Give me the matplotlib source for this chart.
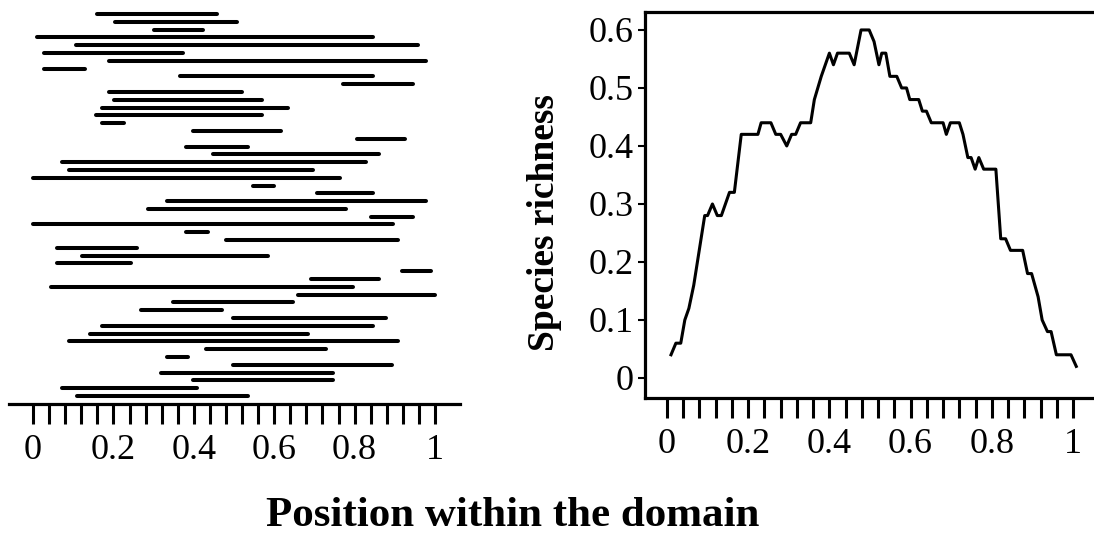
import matplotlib
matplotlib.use("Agg")
import matplotlib.pyplot as plt
import numpy as np

plt.rcParams['font.family'] = ['Liberation Serif', 'DejaVu Serif']

# left panel: range of each species (top to bottom)
range_start = [0.159, 0.204, 0.301, 0.010, 0.107, 0.027, 0.189, 0.027, 0.366, 0.771,
               0.189, 0.201, 0.172, 0.157, 0.172, 0.398, 0.806, 0.381, 0.448, 0.072,
               0.090, 0.000, 0.547, 0.706, 0.333, 0.286, 0.841, 0.000, 0.381, 0.480,
               0.060, 0.122, 0.060, 0.918, 0.692, 0.045, 0.659, 0.348, 0.269, 0.498,
               0.172, 0.142, 0.090, 0.430, 0.333, 0.498, 0.318, 0.398, 0.072, 0.109]
range_end = [0.458, 0.507, 0.423, 0.846, 0.958, 0.373, 0.978, 0.129, 0.846, 0.945,
             0.520, 0.570, 0.634, 0.570, 0.226, 0.617, 0.925, 0.535, 0.861, 0.828,
             0.697, 0.764, 0.600, 0.846, 0.978, 0.779, 0.945, 0.896, 0.435, 0.908,
             0.259, 0.585, 0.244, 0.990, 0.861, 0.796, 1.000, 0.647, 0.470, 0.878,
             0.846, 0.684, 0.908, 0.729, 0.386, 0.893, 0.746, 0.746, 0.408, 0.535]

# right panel: species richness along the domain
pos = [0.010, 0.022, 0.034, 0.044, 0.054, 0.066, 0.093, 0.100, 0.112, 0.124,
       0.134, 0.154, 0.166, 0.183, 0.224, 0.232, 0.256, 0.268, 0.280, 0.295,
       0.307, 0.317, 0.329, 0.354, 0.363, 0.380, 0.400, 0.410, 0.420, 0.449,
       0.461, 0.478, 0.498, 0.510, 0.522, 0.529, 0.539, 0.549, 0.566, 0.578,
       0.590, 0.598, 0.620, 0.629, 0.639, 0.651, 0.680, 0.688, 0.698, 0.720,
       0.729, 0.741, 0.749, 0.759, 0.768, 0.780, 0.810, 0.822, 0.834, 0.846,
       0.876, 0.888, 0.898, 0.914, 0.924, 0.937, 0.946, 0.959, 0.995, 1.008]
richness = [0.04, 0.06, 0.06, 0.10, 0.12, 0.16, 0.28, 0.28, 0.30, 0.28,
            0.28, 0.32, 0.32, 0.42, 0.42, 0.44, 0.44, 0.42, 0.42, 0.40,
            0.42, 0.42, 0.44, 0.44, 0.48, 0.52, 0.56, 0.54, 0.56, 0.56,
            0.54, 0.60, 0.60, 0.58, 0.54, 0.56, 0.56, 0.52, 0.52, 0.50,
            0.50, 0.48, 0.48, 0.46, 0.46, 0.44, 0.44, 0.42, 0.44, 0.44,
            0.42, 0.38, 0.38, 0.36, 0.38, 0.36, 0.36, 0.24, 0.24, 0.22,
            0.22, 0.18, 0.18, 0.14, 0.10, 0.08, 0.08, 0.04, 0.04, 0.02]

xticks = np.arange(0, 1.0001, 0.04)
xlabels = ['0', '0.2', '0.4', '0.6', '0.8', '1']
yticks = [0, 0.1, 0.2, 0.3, 0.4, 0.5, 0.6]
ylabels = ['0', '0.1', '0.2', '0.3', '0.4', '0.5', '0.6']

fig = plt.figure(figsize=(10.94, 5.54), dpi=100)

# ---- left: ranges
ax1 = fig.add_axes([0.0082, 0.2708, 0.4122, 0.720])
rows = np.arange(len(range_start))
ax1.hlines(rows, range_start, range_end, colors='black', lw=2.9, capstyle='round')
ax1.set_xlim(-0.06, 1.062)
ax1.set_ylim(50.03, -1.15)
for s in ['left', 'right', 'top']:
    ax1.spines[s].set_visible(False)
ax1.spines['bottom'].set_linewidth(2.3)
ax1.set_yticks([])

# ---- right: richness
ax2 = fig.add_axes([0.5896, 0.2816, 0.4250, 0.6968])
ax2.plot(pos, richness, color='black', lw=2.2)
ax2.set_xlim(-0.054, 1.091)
ax2.set_ylim(-0.0345, 0.631)
ax2.spines['right'].set_visible(False)
for s in ['left', 'top', 'bottom']:
    ax2.spines[s].set_linewidth(2.3)
ax2.set_yticks(yticks)
ax2.set_yticklabels(ylabels)
ax2.tick_params(axis='y', length=5, width=1.5, pad=3, labelsize=26)

for ax in (ax1, ax2):
    ax.set_xticks(xticks)
    ax.set_xticklabels([xlabels[i // 5] if i % 5 == 0 else '' for i in range(len(xticks))])
    ax.tick_params(axis='x', direction='out', length=14.5, width=2.2, pad=7, labelsize=26)

fig.text(545 / 1094, 1 - 223 / 554, 'Species richness', rotation=90,
         ha='center', va='center', fontsize=27, fontweight='bold')
fig.text(513 / 1094, 1 - 516 / 554, 'Position within the domain',
         ha='center', va='center', fontsize=31, fontweight='bold')

fig.savefig('out.png', dpi=100)
